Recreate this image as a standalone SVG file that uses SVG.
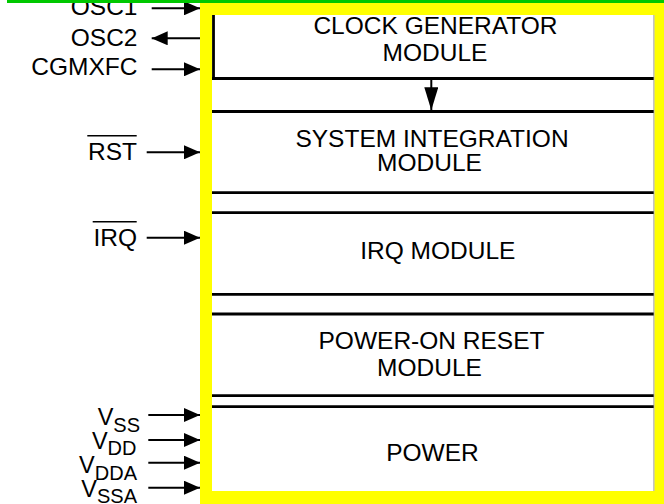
<svg xmlns="http://www.w3.org/2000/svg" width="664" height="504" viewBox="0 0 664 504">
  <style>
    text { font-family: "Liberation Sans", Arial, sans-serif; fill: #000; }
    .mod { font-size: 24.5px; text-anchor: middle; }
    .lbl { font-size: 24.5px; text-anchor: end; }
    .vl { font-size: 23.5px; text-anchor: end; }
    .sub { font-size: 20px; }
    .sep { stroke: #000; stroke-width: 2.8; fill: none; }
    .wire { stroke: #000; stroke-width: 2; fill: none; }
    .yel { fill: #ffff00; }
  </style>
  <defs>
    <marker id="ah" viewBox="0 0 16 14" refX="16" refY="7" markerWidth="16" markerHeight="14" orient="auto" markerUnits="userSpaceOnUse">
      <path d="M0,0 L16,7 L0,14 Z" fill="#000"/>
    </marker>
    <marker id="ahBig" viewBox="0 0 23 14" refX="23" refY="7" markerWidth="23" markerHeight="14" orient="auto" markerUnits="userSpaceOnUse">
      <path d="M0,0 L23,7 L0,14 Z" fill="#000"/>
    </marker>
  </defs>
  <rect x="0" y="0" width="664" height="504" fill="#fff"/>

  <g id="labels">
    <text class="lbl" x="137.5" y="15">OSC1</text>
    <text class="lbl" x="137.5" y="45.7">OSC2</text>
    <text class="lbl" x="137.5" y="75">CGMXFC</text>
    <text class="lbl" x="137" y="160">RST</text>
    <line x1="87.3" y1="135.7" x2="136.7" y2="135.7" stroke="#000" stroke-width="1.6"/>
    <text class="lbl" x="137" y="246">IRQ</text>
    <line x1="92.7" y1="221.7" x2="136.7" y2="221.7" stroke="#000" stroke-width="1.6"/>
    <text class="vl" x="140" y="424.5">V<tspan class="sub" dy="7">SS</tspan></text>
    <text class="vl" x="136.5" y="449.3">V<tspan class="sub" dy="6">DD</tspan></text>
    <text class="vl" x="137" y="473.3">V<tspan class="sub" dy="7">DDA</tspan></text>
    <text class="vl" x="137" y="497.3">V<tspan class="sub" dy="6">SSA</tspan></text>
  </g>

  <g id="clock-generator">
    <line x1="213.5" y1="15" x2="213.5" y2="79.5" stroke="#000" stroke-width="2.8"/>
    <line class="sep" x1="212" y1="78.5" x2="654" y2="78.5"/>
    <text class="mod" x="435.5" y="33.5">CLOCK GENERATOR</text>
    <text class="mod" x="435" y="60.5">MODULE</text>
  </g>
  <g id="system-integration">
    <line class="sep" x1="212" y1="111.5" x2="654" y2="111.5"/>
    <line class="sep" x1="212" y1="192.7" x2="654" y2="192.7"/>
    <text class="mod" x="432" y="147.3">SYSTEM INTEGRATION</text>
    <text class="mod" x="429.5" y="171">MODULE</text>
  </g>
  <g id="irq-module">
    <line class="sep" x1="212" y1="212.7" x2="654" y2="212.7"/>
    <line class="sep" x1="212" y1="294.3" x2="654" y2="294.3"/>
    <text class="mod" x="437.8" y="259.3">IRQ MODULE</text>
  </g>
  <g id="power-on-reset">
    <line class="sep" x1="212" y1="314" x2="654" y2="314"/>
    <line class="sep" x1="212" y1="395.7" x2="654" y2="395.7"/>
    <text class="mod" x="431.5" y="349.3">POWER-ON RESET</text>
    <text class="mod" x="429.5" y="376">MODULE</text>
  </g>
  <g id="power">
    <line class="sep" x1="212" y1="406.7" x2="654" y2="406.7"/>
    <text class="mod" x="432.5" y="461">POWER</text>
  </g>

  <g id="connectors">
    <line class="wire" x1="151.7" y1="8.3" x2="200" y2="8.3" marker-end="url(#ah)"/>
    <line class="wire" x1="200" y1="38.3" x2="151.7" y2="38.3" marker-end="url(#ah)"/>
    <line class="wire" x1="151.7" y1="69.3" x2="200" y2="69.3" marker-end="url(#ah)"/>
    <line class="wire" x1="146.7" y1="152.3" x2="200" y2="152.3" marker-end="url(#ah)"/>
    <line class="wire" x1="146.7" y1="237.7" x2="200" y2="237.7" marker-end="url(#ah)"/>
    <line class="wire" x1="148.3" y1="415" x2="200" y2="415" marker-end="url(#ah)"/>
    <line class="wire" x1="148.3" y1="440" x2="200" y2="440" marker-end="url(#ah)"/>
    <line class="wire" x1="148.3" y1="462.7" x2="200" y2="462.7" marker-end="url(#ah)"/>
    <line class="wire" x1="148.3" y1="487.7" x2="200" y2="487.7" marker-end="url(#ah)"/>
    <line class="wire" x1="431.3" y1="80" x2="431.3" y2="110.2" marker-end="url(#ahBig)"/>
  </g>

  <g id="frame">
    <line x1="654" y1="15" x2="654" y2="492" stroke="#888" stroke-width="1"/>
    <rect class="yel" x="200" y="3" width="12" height="501"/>
    <rect class="yel" x="200" y="3" width="464" height="12"/>
    <rect class="yel" x="654.6" y="3" width="9.4" height="501"/>
    <rect class="yel" x="200" y="491" width="464" height="13"/>
    <rect x="7" y="0" width="657" height="3" fill="#00c800"/>
  </g>
</svg>
